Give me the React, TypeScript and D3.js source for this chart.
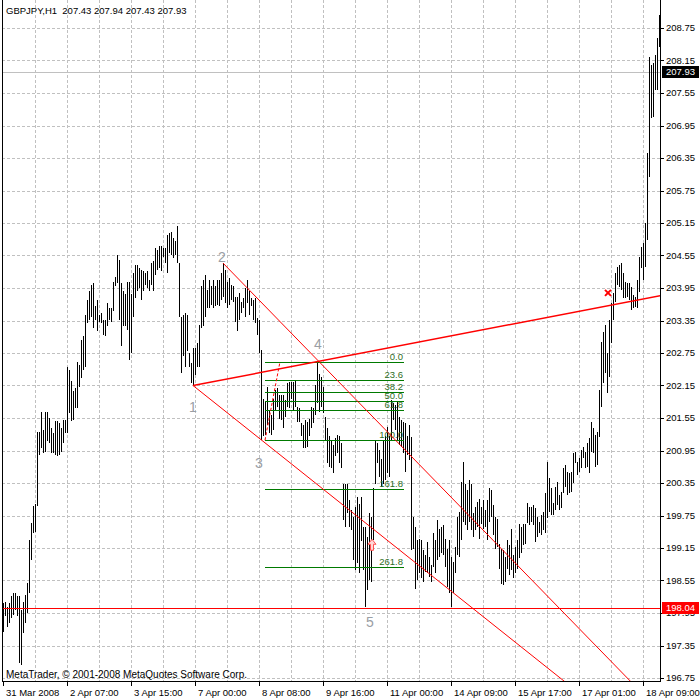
import { useEffect, useRef } from "react";
import * as d3 from "d3";

// GBPJPY H1, one bar per hour (high / low per bar)
const highs = [
  198.14, 198.16, 198.07, 198.13, 198.26, 198.32, 198.32, 198.26, 198.26, 198.01,
  198.16, 198.29, 198.5, 199.3, 199.61, 199.92, 199.97, 201.3, 201.3, 201.67,
  201.33, 201.67, 201.67, 201.55, 201.36, 201.27, 201.49, 201.49, 201.46, 201.36,
  201.52, 201.52, 202.5, 202.44, 202.23, 202.04, 202.1, 202.59, 202.53, 202.99,
  203.06, 203.46, 203.73, 203.89, 204.01, 204.04, 203.61, 203.73, 203.46, 203.49,
  203.36, 203.36, 203.67, 203.58, 203.58, 204.07, 204.16, 204.56, 204.47, 204.04,
  203.89, 203.83, 204.07, 204.07, 203.83, 204.23, 204.38, 204.38, 204.32, 204.29,
  204.26, 204.23, 204.26, 204.1, 204.41, 204.44, 204.69, 204.66, 204.72, 204.72,
  204.69, 204.69, 204.93, 204.96, 204.99, 204.87, 204.81, 205.1, 204.41, 203.42,
  203.46, 203.49, 203.46, 202.75, 202.56, 202.84, 202.84, 202.93, 203.27, 203.98,
  204.1, 204.19, 203.92, 204.1, 203.98, 204.1, 203.98, 204.1, 204.1, 204.23,
  204.41, 204.29, 204.07, 204.13, 204.01, 203.98, 203.79, 203.79, 203.86, 203.7,
  203.76, 203.95, 204.1, 203.89, 203.76, 203.73, 203.76, 203.39, 203.36, 202.8,
  201.91, 201.85, 202.13, 201.7, 201.61, 201.91, 202.07, 202.1, 201.97, 201.97,
  201.97, 201.88, 202.19, 202.22, 202.22, 202.22, 202.25, 201.76, 201.73, 201.45,
  201.42, 201.51, 201.48, 201.54, 201.76, 201.73, 202.16, 202.59, 202.37, 202.31,
  202.13, 201.57, 201.36, 201.21, 201.14, 201.05, 201.18, 201.24, 201.21, 201.08,
  200.34, 200.34, 200.34, 200.04, 199.85, 199.73, 199.91, 200.1, 199.97, 200.1,
  199.54, 199.54, 199.36, 199.79, 199.73, 200.25, 201.14, 201.08, 200.96, 200.8,
  201.14, 201.21, 201.39, 201.21, 201.88, 201.82, 201.79, 201.85, 201.57, 201.51,
  201.48, 201.45, 201.21, 201.42, 201.2, 199.72, 199.54, 199.29, 199.32, 199.29,
  199.11, 199.02, 199.26, 198.99, 198.83, 199.42, 199.29, 199.66, 199.51, 199.54,
  199.57, 199.32, 199.14, 199.29, 198.99, 198.89, 199.17, 199.72, 199.82, 200.37,
  200.74, 200.34, 200.22, 200.4, 200.34, 199.79, 199.91, 200.0, 200.06, 199.91,
  200.03, 199.85, 200.03, 200.25, 200.22, 199.94, 199.72, 199.69, 199.23, 199.14,
  199.11, 198.99, 199.29, 199.2, 199.51, 199.02, 199.17, 199.29, 199.6, 199.54,
  199.6, 199.6, 199.98, 199.91, 199.91, 199.94, 199.89, 199.72, 199.63, 199.76,
  199.82, 200.17, 200.74, 200.44, 200.26, 199.98, 200.28, 200.37, 200.13, 200.18,
  200.63, 200.68, 200.55, 200.54, 200.55, 200.9, 200.92, 200.74, 200.81, 200.96,
  201.01, 200.92, 201.09, 201.18, 201.48, 201.37, 201.24, 201.29, 202.07, 202.95,
  203.14, 203.27, 202.75, 203.36, 203.67, 203.86, 204.23, 204.34, 204.37, 204.41,
  204.23, 204.06, 204.04, 204.04, 203.97, 203.82, 203.78, 204.1, 204.52, 204.71,
  204.78, 205.15, 206.44, 208.21, 208.07, 208.1, 208.25, 208.57, 208.99
];
const lows = [
  197.59, 197.89, 197.7, 197.76, 197.86, 197.92, 198.01, 197.89, 197.03, 196.99,
  197.58, 197.76, 197.95, 198.32, 198.93, 199.42, 199.45, 199.92, 200.87, 200.99,
  200.9, 200.93, 201.12, 201.09, 200.9, 200.9, 200.87, 200.84, 200.87, 200.93,
  201.09, 201.27, 201.27, 201.64, 201.49, 201.52, 201.73, 201.73, 202.13, 202.29,
  202.44, 202.5, 203.3, 203.36, 203.42, 203.21, 203.36, 203.15, 203.33, 203.3,
  203.09, 203.06, 203.24, 203.36, 203.33, 203.52, 203.98, 204.04, 203.36, 202.87,
  203.24, 203.24, 203.18, 202.63, 202.75, 203.42, 203.76, 203.89, 203.95, 203.73,
  203.89, 204.01, 203.95, 203.89, 204.01, 203.89, 204.19, 204.29, 204.32, 204.26,
  204.53, 204.41, 204.23, 204.59, 204.56, 204.5, 204.56, 204.41, 203.42, 202.38,
  202.69, 202.5, 202.78, 202.5, 202.19, 202.15, 202.35, 202.5, 202.5, 203.21,
  203.24, 203.42, 203.58, 203.58, 203.64, 203.58, 203.61, 203.64, 203.61, 203.73,
  203.79, 203.67, 203.58, 203.64, 203.73, 203.7, 203.33, 203.15, 203.36, 203.49,
  203.58, 203.42, 203.67, 203.46, 203.61, 203.36, 203.3, 203.09, 202.75, 201.15,
  201.21, 201.24, 201.42, 201.27, 201.24, 201.33, 201.7, 201.76, 201.54, 201.51,
  201.36, 201.57, 201.76, 201.73, 201.91, 201.7, 201.76, 201.48, 201.48, 201.21,
  200.99, 200.99, 201.02, 201.21, 201.36, 201.45, 201.61, 201.82, 201.67, 201.76,
  201.64, 201.14, 200.71, 200.65, 200.62, 200.53, 200.84, 200.9, 200.71, 200.62,
  199.67, 199.54, 199.79, 199.54, 199.48, 198.93, 198.74, 198.87, 198.68, 199.27,
  198.74, 198.07, 198.37, 198.56, 198.53, 199.3, 200.34, 200.71, 200.47, 200.28,
  200.34, 200.41, 200.53, 200.47, 201.14, 201.51, 201.33, 201.14, 201.05, 201.02,
  200.9, 200.56, 200.87, 200.77, 199.11, 199.14, 198.4, 198.56, 198.68, 198.59,
  198.52, 198.71, 198.68, 198.62, 198.52, 198.8, 198.68, 198.92, 198.99, 199.05,
  199.02, 198.8, 198.43, 198.31, 198.06, 198.31, 198.68, 199.02, 198.99, 199.29,
  199.63, 199.57, 199.48, 199.63, 199.48, 199.36, 199.48, 199.54, 199.32, 199.6,
  199.51, 199.54, 199.29, 199.63, 199.72, 199.39, 199.14, 199.17, 198.77, 198.49,
  198.46, 198.52, 198.77, 198.65, 198.74, 198.59, 198.68, 198.77, 198.96, 199.05,
  199.2, 199.23, 199.61, 199.57, 199.63, 199.57, 199.26, 199.35, 199.43, 199.39,
  199.48, 199.43, 199.7, 199.82, 199.76, 199.76, 199.85, 199.94, 199.85, 199.89,
  200.17, 200.28, 200.13, 200.17, 200.18, 200.35, 200.72, 200.5, 200.55, 200.63,
  200.81, 200.63, 200.65, 200.54, 200.92, 200.9, 200.65, 200.68, 201.2, 201.75,
  202.2, 202.38, 202.01, 202.31, 202.94, 203.36, 203.69, 204.01, 203.97, 203.91,
  203.77, 203.77, 203.78, 203.73, 203.54, 203.58, 203.6, 203.58, 203.88, 204.32,
  204.1, 204.34, 204.84, 206.0, 207.09, 207.11, 207.61, 207.61, 208.4
];

const timeLabels = [
  "31 Mar 2008", "2 Apr 07:00", "3 Apr 15:00", "7 Apr 00:00", "8 Apr 08:00", "9 Apr 16:00",
  "11 Apr 00:00", "14 Apr 09:00", "15 Apr 17:00", "17 Apr 01:00", "18 Apr 09:00"
];
const timeLabelBars = [0, 32, 64, 96, 128, 160, 192, 224, 256, 288, 320];
const priceTicks = [
  208.75, 208.15, 207.55, 206.95, 206.35, 205.75, 205.15, 204.55, 203.95, 203.35, 202.75,
  202.15, 201.55, 200.95, 200.35, 199.75, 199.15, 198.55, 197.95, 197.35, 196.75
];
const bidPrice = 207.93;
const markPrice = 198.04;

const fibLevels = [0, 23.6, 38.2, 50, 61.8, 100, 161.8, 261.8];
const fibStart = { bar: 131, price: 201.14 };
const fibEnd = { bar: 138.5, price: 202.59 };
const fibLineEndBar = 200.5;

const wavePoints = [
  { bar: 95, price: 202.15 },
  { bar: 110, price: 204.41 },
  { bar: 129, price: 201.15 },
  { bar: 157, price: 202.59 },
  { bar: 181, price: 198.07 }
];
const waveLabels = ["1", "2", "3", "4", "5"];
const waveLabelAt = [
  { bar: 95, price: 201.75 },
  { bar: 109.5, price: 204.52 },
  { bar: 128, price: 200.72 },
  { bar: 157.5, price: 202.92 },
  { bar: 183.5, price: 197.78 }
];
const channelPoint = { bar: 205, price: 200.81 };
const crossMark = { bar: 302.5, price: 203.86 };
const arrowMark = { bar: 184.5, price: 199.2 };

export default function App() {
  const ref = useRef<SVGSVGElement | null>(null);

  useEffect(() => {
    if (!ref.current) return;
    const svg = d3.select(ref.current);
    svg.selectAll("*").remove();

    const W = 700;
    const H = 700;
    const left = 2;
    const right = 660;
    const bottom = 681;
    const font = "'Liberation Sans', Arial, sans-serif";
    const x = d3.scaleLinear().domain([0, highs.length - 1]).range([3, 659]);
    const y = d3.scaleLinear().domain([196.75, 208.75]).range([678, 28]);
    const px = (v: number) => Math.round(v) + 0.5;

    svg.attr("width", W).attr("height", H).attr("viewBox", `0 0 ${W} ${H}`);
    svg.append("rect").attr("width", W).attr("height", H).attr("fill", "#fff");
    svg.append("defs").append("clipPath").attr("id", "plot")
      .append("rect").attr("x", left).attr("y", 0).attr("width", right - left).attr("height", bottom);

    // grid
    const grid = svg.append("g").attr("stroke", "#c0c0c0").attr("stroke-dasharray", "3,2")
      .attr("shape-rendering", "crispEdges");
    grid.selectAll("line.h").data(priceTicks).join("line").attr("class", "h")
      .attr("x1", left).attr("x2", right)
      .attr("y1", (d: number) => px(y(d))).attr("y2", (d: number) => px(y(d)));
    grid.selectAll("line.v").data(d3.range(16, highs.length, 16)).join("line").attr("class", "v")
      .attr("y1", 0).attr("y2", bottom)
      .attr("x1", (d: number) => px(x(d))).attr("x2", (d: number) => px(x(d)));

    // bid line
    svg.append("line").attr("x1", left).attr("x2", right)
      .attr("y1", px(y(bidPrice))).attr("y2", px(y(bidPrice)))
      .attr("stroke", "#c0c0c0").attr("shape-rendering", "crispEdges");

    // bars
    svg.append("g").attr("shape-rendering", "crispEdges").selectAll("rect")
      .data(highs.map((h, i) => ({ i, h, l: lows[i] })))
      .join("rect")
      .attr("x", (d: any) => Math.round(x(d.i)))
      .attr("y", (d: any) => Math.round(y(d.h)))
      .attr("width", 1)
      .attr("height", (d: any) => Math.max(1, Math.round(y(d.l)) - Math.round(y(d.h))))
      .attr("fill", "#000");

    const plot = svg.append("g").attr("clip-path", "url(#plot)");

    // low marker line
    plot.append("line").attr("x1", left).attr("x2", right)
      .attr("y1", px(y(markPrice))).attr("y2", px(y(markPrice)))
      .attr("stroke", "#ff0000").attr("shape-rendering", "crispEdges");

    // fibonacci
    const fibPrice = (lvl: number) => fibEnd.price + (fibStart.price - fibEnd.price) * lvl / 100;
    plot.selectAll("line.fib").data(fibLevels).join("line").attr("class", "fib")
      .attr("x1", x(fibStart.bar)).attr("x2", x(fibLineEndBar))
      .attr("y1", (d: number) => px(y(fibPrice(d)))).attr("y2", (d: number) => px(y(fibPrice(d))))
      .attr("stroke", "#007a00").attr("shape-rendering", "crispEdges");
    plot.selectAll("text.fib").data(fibLevels).join("text").attr("class", "fib")
      .attr("x", x(fibLineEndBar) - 1).attr("y", (d: number) => y(fibPrice(d)) - 2)
      .attr("text-anchor", "end").attr("font-family", font).attr("font-size", 9.5)
      .attr("fill", "#2e6e1e").text((d: number) => d.toFixed(1));
    plot.append("line")
      .attr("x1", x(fibStart.bar)).attr("y1", y(fibStart.price))
      .attr("x2", x(fibEnd.bar)).attr("y2", y(fibEnd.price))
      .attr("stroke", "#ff0000").attr("stroke-dasharray", "3,2");

    // trend lines (rays)
    const ray = (a: { bar: number; price: number }, b: { bar: number; price: number }, w: number) => {
      const endBar = 360;
      const slope = (b.price - a.price) / (b.bar - a.bar);
      plot.append("line")
        .attr("x1", x(a.bar)).attr("y1", y(a.price))
        .attr("x2", x(endBar)).attr("y2", y(a.price + slope * (endBar - a.bar)))
        .attr("stroke", "#ff0000").attr("stroke-width", w);
    };
    ray(wavePoints[0], wavePoints[3], 1.5);
    ray(wavePoints[0], wavePoints[2], 1);
    ray(wavePoints[1], channelPoint, 1);

    // marks
    const cx = x(crossMark.bar);
    const cy = y(crossMark.price);
    plot.append("path")
      .attr("d", `M${cx - 3},${cy - 3}L${cx + 3},${cy + 3}M${cx + 3},${cy - 3}L${cx - 3},${cy + 3}`)
      .attr("stroke", "#ff0000").attr("stroke-width", 2);
    const ax = x(arrowMark.bar);
    const ay = y(arrowMark.price);
    plot.append("path")
      .attr("d", `M${ax},${ay - 6}L${ax + 4},${ay - 1}L${ax + 1.5},${ay - 1}L${ax + 1.5},${ay + 5}` +
        `L${ax - 1.5},${ay + 5}L${ax - 1.5},${ay - 1}L${ax - 4},${ay - 1}Z`)
      .attr("fill", "#ffd6d6").attr("stroke", "#ff5050");

    // wave labels
    plot.selectAll("text.wave").data(waveLabelAt).join("text").attr("class", "wave")
      .attr("x", (d: any) => x(d.bar)).attr("y", (d: any) => y(d.price))
      .attr("dy", "0.36em").attr("text-anchor", "middle")
      .attr("font-family", font).attr("font-size", 14).attr("fill", "#9a9ea4")
      .text((_: any, i: number) => waveLabels[i]);

    // frame
    const frame = svg.append("g").attr("stroke", "#000").attr("shape-rendering", "crispEdges");
    frame.append("line").attr("x1", left + 0.5).attr("x2", left + 0.5).attr("y1", 0).attr("y2", bottom + 0.5);
    frame.append("line").attr("x1", right + 0.5).attr("x2", right + 0.5).attr("y1", 0).attr("y2", bottom + 0.5);
    frame.append("line").attr("x1", left).attr("x2", right + 1).attr("y1", bottom + 0.5).attr("y2", bottom + 0.5);

    // price axis
    frame.selectAll("line.pt").data(priceTicks).join("line").attr("class", "pt")
      .attr("x1", right).attr("x2", right + 4)
      .attr("y1", (d: number) => px(y(d))).attr("y2", (d: number) => px(y(d)));
    svg.append("g").selectAll("text").data(priceTicks).join("text")
      .attr("x", 666).attr("y", (d: number) => y(d)).attr("dy", "0.36em")
      .attr("font-family", font).attr("font-size", 9.5).attr("fill", "#000")
      .text((d: number) => d.toFixed(2));

    // time axis
    frame.selectAll("line.tt").data(timeLabelBars).join("line").attr("class", "tt")
      .attr("x1", (d: number) => px(x(d))).attr("x2", (d: number) => px(x(d)))
      .attr("y1", bottom).attr("y2", bottom + 5);
    svg.append("g").selectAll("text").data(timeLabelBars).join("text")
      .attr("x", (d: number) => x(d) + 3).attr("y", 696)
      .attr("font-family", font).attr("font-size", 9.5).attr("fill", "#000")
      .text((_: number, i: number) => timeLabels[i]);

    // price boxes
    const box = (price: number, fill: string) => {
      const cyb = Math.round(y(price));
      svg.append("rect").attr("x", 662).attr("y", cyb - 6).attr("width", 37).attr("height", 12).attr("fill", fill);
      svg.append("text").attr("x", 666).attr("y", cyb).attr("dy", "0.36em")
        .attr("font-family", font).attr("font-size", 9.5).attr("fill", "#fff").text(price.toFixed(2));
    };
    box(bidPrice, "#000");
    box(markPrice, "#ff0000");

    // captions
    svg.append("text").attr("x", 6).attr("y", 14).attr("font-family", font).attr("font-size", 9.5)
      .attr("fill", "#000").attr("xml:space", "preserve").text("GBPJPY,H1  207.43 207.94 207.43 207.93");
    svg.append("text").attr("x", 6).attr("y", 678).attr("font-family", font).attr("font-size", 10)
      .attr("fill", "#000").text("MetaTrader, © 2001-2008 MetaQuotes Software Corp.");
  }, []);

  return <svg ref={ref} style={{ position: "absolute", left: 0, top: 0, display: "block" }} />;
}
